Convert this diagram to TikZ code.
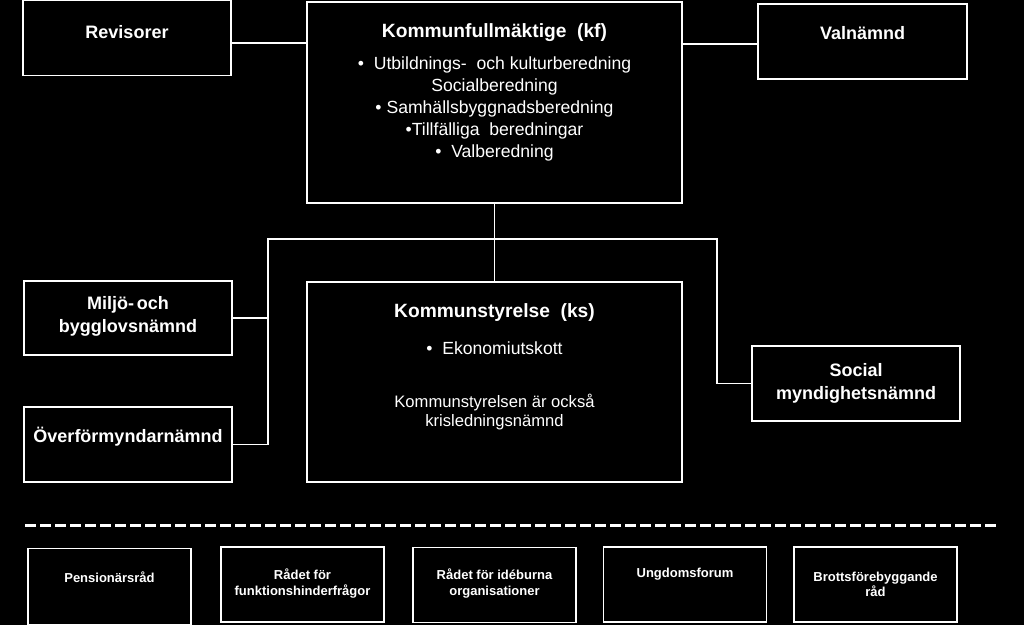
\documentclass[tikz,border=0pt]{standalone}
\usepackage{fontspec}
\setmainfont{Liberation Sans}
\begin{document}
\begin{tikzpicture}[
      x=1pt, y=-1pt,
      ruta/.style={
        draw=white,
        line width=1.5pt,
        inner sep=0pt,
        minimum width=208pt,
        minimum height=75pt
      },
      stor/.style={
        ruta,
        minimum width=375pt,
        minimum height=200pt
      },
      liten/.style={
        ruta,
        minimum width=163pt
      },
      rubrik/.style={text=white, align=center, font=\bfseries\fontsize{19.2}{23}\selectfont},
      namn/.style={text=white, align=center, font=\bfseries\fontsize{18}{23}\selectfont},
      brod/.style={text=white, align=center, font=\fontsize{17.6}{22}\selectfont},
      fot/.style={text=white, align=center, font=\fontsize{16.6}{19.5}\selectfont},
      rad/.style={text=white, align=center, font=\bfseries\fontsize{13}{15.5}\selectfont},
      linje/.style={draw=white, line width=1.5pt},
      streck/.style={draw=white, line width=3pt, dash pattern=on 11pt off 4pt}
    ]
    \path[fill=black, use as bounding box] (0,0) rectangle (1024,625);

    % overst
    \node[ruta] (rev) at (127,38) {};
    \node[namn] (revt) at ([yshift=6pt]rev.center) {Revisorer};
    \node[stor, minimum height=201pt] (kf) at (494.5,102.5) {};
    \node[rubrik] (kft) at (494.5,33) {Kommunfullm\"aktige\ \ (kf)};
    \node[brod] (kfb) at (494.5,109) {\textbullet\ \ Utbildnings-\ \ och kulturberedning\\
      Socialberedning\\
      \textbullet\ Samh\"allsbyggnadsberedning\\
      \textbullet Tillf\"alliga\ \ beredningar\\
      \textbullet\ \ Valberedning};
    \node[ruta, minimum width=209pt] (val) at (862.5,41.5) {};
    \node[namn] (valt) at ([yshift=8.5pt]val.center) {Valn\"amnd};

    % mitten
    \node[ruta, minimum height=74pt] (mil) at (128,318) {};
    \node[namn] (milt) at ([yshift=1.5pt]mil.center) {Milj\"o-\,och\\bygglovsn\"amnd};
    \node[ruta] (ovf) at (128,444.5) {};
    \node[namn] (ovft) at ([yshift=7.5pt]ovf.center) {\"Overf\"ormyndarn\"amnd};
    \node[stor] (ks) at (494.5,382) {};
    \node[rubrik] (kst) at (494.5,313) {Kommunstyrelse\ \ (ks)};
    \node[brod] (ksb) at (494.5,348) {\textbullet\ \ Ekonomiutskott};
    \node[fot] (ksf) at (494.5,412) {Kommunstyrelsen \"ar ocks\aa\\krisledningsn\"amnd};
    \node[ruta] (soc) at (856,383.5) {};
    \node[namn] (soct) at (soc.center) {Social\\myndighetsn\"amnd};

    % kopplingar
    \coordinate (busv) at (268,239);
    \coordinate (bush) at (717,239);
    \draw[linje] ([yshift=-5pt]rev.east) -- ([yshift=-5pt]rev.east -| kf.west);
    \draw[linje] ([yshift=-2.5pt]val.west) -- ([yshift=-2.5pt]val.west -| kf.east);
    \draw[linje] (kf.south) -- (ks.north);
    \draw[linje] (mil.east) -| (busv) -- (bush) |- (soc.west);
    \draw[linje] (ovf.east) -| (busv);

    % skiljelinje
    \coordinate (sv) at (25,525);
    \coordinate (sh) at (997,525);
    \draw[streck] (sv) -- (sh);

    % rad
    \node[liten, minimum height=76pt] (pen) at (109.5,586.5) {};
    \node[rad] (pent) at ([yshift=9.5pt]pen.center) {Pension\"arsr\aa d};
    \node[liten] (fun) at (302.5,584.5) {};
    \node[rad] (funt) at ([yshift=1pt]fun.center) {R\aa det f\"or\\funktionshinderfr\aa gor};
    \node[liten] (ide) at (494.5,585) {};
    \node[rad] (idet) at ([yshift=1.5pt]ide.center) {R\aa det f\"or id\'eburna\\organisationer};
    \node[liten] (ung) at (685,584.5) {};
    \node[rad] (ungt) at ([yshift=10.5pt]ung.center) {Ungdomsforum};
    \node[liten] (bro) at (875.5,584.5) {};
    \node[rad] (brot) at (bro.center) {Brottsf\"orebyggande\\r\aa d};

  \end{tikzpicture}
\end{document}
